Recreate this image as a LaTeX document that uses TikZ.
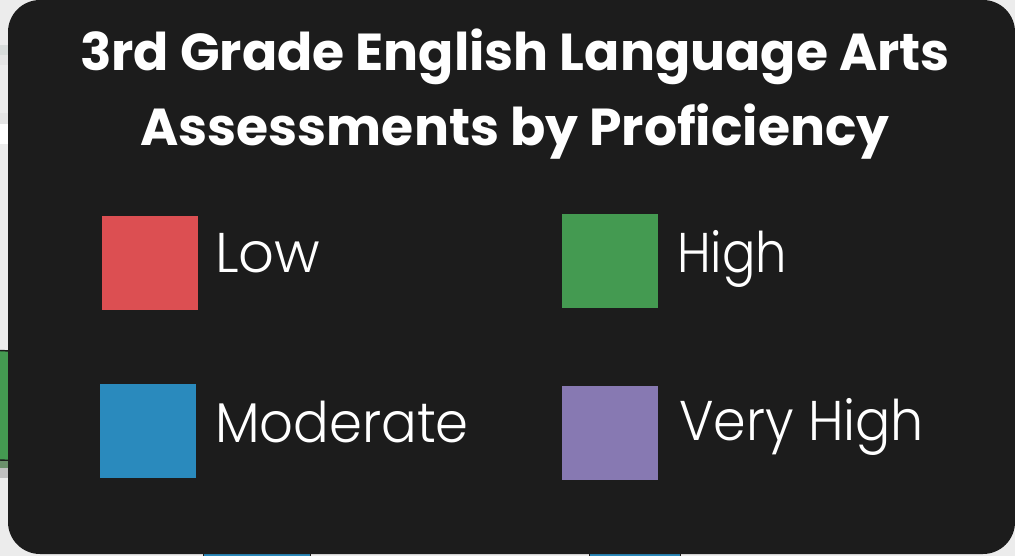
\documentclass[tikz,border=0pt]{standalone}
\usepackage{fontspec}
\usepackage{graphicx}
\setmainfont{Poppins}[UprightFont=* Light,BoldFont=* Bold]
\definecolor{card}{HTML}{1C1C1C}
\definecolor{page}{HTML}{ECECEC}
\definecolor{band}{HTML}{D8DCDB}
\definecolor{bandb}{HTML}{E5E5E5}
\definecolor{greyg}{HTML}{6B8F6B}
\definecolor{greyb}{HTML}{C0C0C0}
\definecolor{lowc}{HTML}{DC4F52}
\definecolor{highc}{HTML}{449A51}
\definecolor{modc}{HTML}{2A8ABD}
\definecolor{vhighc}{HTML}{8779B2}
\tikzset{
  titletext/.style={text=white,font=\bfseries\fontsize{39}{39}\selectfont,inner sep=0pt,anchor=base},
  legendtext/.style={text=white,font=\fontsize{42}{42}\selectfont,inner sep=0pt,anchor=base west},
  edgeline/.style={draw=card,line width=1.1pt},
}
\begin{document}
\begin{tikzpicture}[x=0.75pt,y=-0.75pt]
\useasboundingbox (0,0) rectangle (1015,556);
% page behind the card
\fill[page] (0,0) rectangle (1015,556);
\fill[band] (0,45) rectangle (10,55);
\fill[bandb] (0,55) rectangle (10,65);
\fill[bandb] (0,113) rectangle (10,124);
\fill[white] (0,124) rectangle (10,144);
\fill[highc] (0,350) rectangle (10,461);
\draw[edgeline] (0,350.5) -- (10,351) (0,460) -- (10,460.5);
\fill[greyg] (0,461) rectangle (10,468);
\fill[greyb] (0,468) rectangle (10,478);
\fill[modc] (204,550) rectangle (310,556);
\fill[modc] (590,550) rectangle (680,556);
\draw[edgeline] (203.5,556) -- (203.5,552) (310.5,556) -- (310.5,552);
\draw[edgeline] (589.5,556) -- (589.5,552) (680.5,556) -- (680.5,552);
% card
\fill[card,rounded corners=24pt] (8,0) rectangle (1015,554);
% title
\node[titletext] (t1) at (515,71) {3rd Grade English Language Arts};
\node[titletext] (t2) at (515,146) {Assessments by Proficiency};
% swatches
\fill[lowc] (102,216) rectangle (198,310);
\fill[highc] (562,214) rectangle (658,308);
\fill[modc] (100,384) rectangle (196,478);
\fill[vhighc] (562,386) rectangle (658,480);
% labels
\node[legendtext] (l1) at (215,273) {Low};
\node[legendtext] (l2) at (677,273) {\scalebox{0.885}[1]{High}};
\node[legendtext] (l3) at (215,442) {\scalebox{0.944}[1]{Moderate}};
\node[legendtext] (l4) at (679,440) {\scalebox{0.934}[1]{Very High}};
\end{tikzpicture}
\end{document}
